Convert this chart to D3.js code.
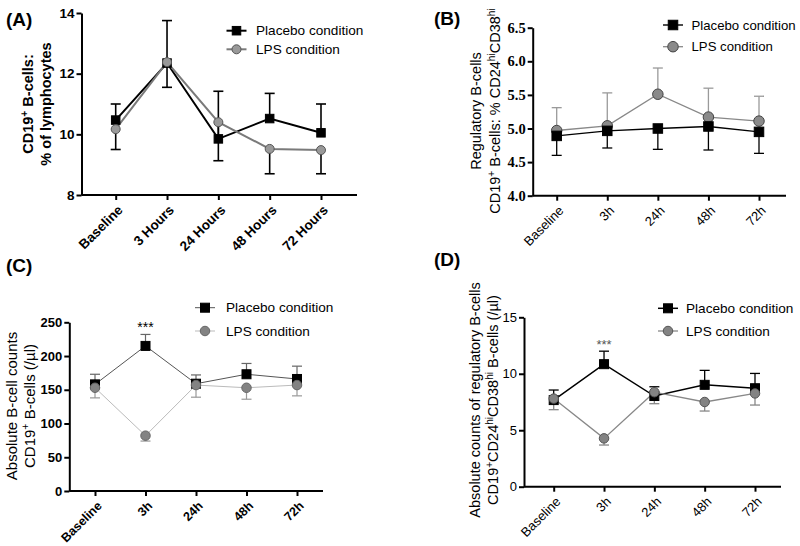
<!DOCTYPE html>
<html><head><meta charset="utf-8">
<script src="https://cdn.jsdelivr.net/npm/d3@7"></script>
<style>body{margin:0;background:#fff}svg{display:block}</style>
</head><body><svg id="c" width="800" height="546"></svg>
<script>
// ---------- data ----------
const categoriesA = ["Baseline","3 Hours","24 Hours","48 Hours","72 Hours"];
const categoriesB = ["Baseline","3h","24h","48h","72h"];
const seriesNames = ["Placebo condition","LPS condition"];

const placeboA = [10.47, 12.35, 9.85, 10.52, 10.05];
const placeboAErr = [0.53, 1.40, 1.57, 0.83, 0.95];
const lpsA = [10.17, 12.38, 10.40, 9.52, 9.48];
const lpsAErr = [0.67, 0.83, 1.27, 0.82, 0.78];
const ticksA = [8, 10, 12, 14];

const placeboB = [4.89, 4.965, 5.00, 5.03, 4.95];
const placeboBErr = [0.29, 0.255, 0.31, 0.35, 0.32];
const lpsB = [4.97, 5.04, 5.51, 5.17, 5.11];
const lpsBErr = [0.34, 0.49, 0.39, 0.43, 0.37];
const ticksB = [4.0, 4.5, 5.0, 5.5, 6.0, 6.5];

const placeboC = [158, 215, 159, 173, 166];
const placeboCErr = [15, 17, 13, 16, 19];
const lpsC = [153, 82, 157, 153, 157];
const lpsCErr = [15, 8, 18, 17, 16];
const ticksC = [0, 50, 100, 150, 200, 250];

const placeboD = [7.67, 10.85, 8.03, 9.02, 8.72];
const placeboDErr = [0.89, 1.15, 0.82, 1.28, 1.31];
const lpsD = [7.80, 4.28, 8.37, 7.50, 8.26];
const lpsDErr = [0.98, 0.59, 1.02, 0.80, 1.03];
const ticksD = [0, 5, 10, 15];

const sigLabel = "***";
const sigIndex = 1;

// ---------- drawing ----------
const svg = d3.select("#c");
const SANS = "'Liberation Sans', Arial, sans-serif";
const SERIF = "'Liberation Serif', 'Times New Roman', serif";

function addRich(textSel, parts){
  parts.forEach(p=>{
    const t = textSel.append("tspan").text(p.t);
    if(p.sup){ t.attr("baseline-shift","super").attr("font-size","70%"); }
  });
}

function panel(cfg){
  const g = svg.append("g");
  const x = d3.scalePoint().domain(cfg.cats).range([cfg.x0, cfg.x1]);
  const y = d3.scaleLinear().domain(cfg.ydom).range([cfg.yb, cfg.yt]);

  const ya = g.append("g").attr("transform",`translate(${cfg.axX},0)`)
    .call(d3.axisLeft(y).tickValues(cfg.ticks).tickSize(5).tickFormat(cfg.fmt).tickSizeOuter(0));
  ya.select(".domain").attr("stroke","#000").attr("stroke-width",2);
  ya.selectAll(".tick line").attr("stroke","#000").attr("stroke-width",2);
  ya.selectAll(".tick text").attr("font-family",cfg.yFont).attr("font-weight",cfg.yWeight)
    .attr("font-size",cfg.yFs).attr("fill","#000").attr("x",-7);

  const xa = g.append("g").attr("transform",`translate(0,${cfg.yb})`)
    .call(d3.axisBottom(x).tickSize(5).tickSizeOuter(0));
  xa.select(".domain").attr("d",`M${cfg.axX},0H${cfg.axEnd}`).attr("stroke","#000").attr("stroke-width",2);
  xa.selectAll(".tick line").attr("stroke","#000").attr("stroke-width",2);
  xa.selectAll(".tick text").attr("font-family",SANS).attr("font-weight",cfg.xWeight)
    .attr("font-size",cfg.xFs).attr("fill","#000")
    .attr("text-anchor","end").attr("y",0).attr("dy","0.35em")
    .attr("transform","translate(4,12.5) rotate(-45)");

  const ser = [
    {v:cfg.p, e:cfg.pe, dir:cfg.pDir, st:cfg.pStyle, shape:"square"},
    {v:cfg.l, e:cfg.le, dir:-cfg.pDir, st:cfg.lStyle, shape:"circle"}
  ];
  const order = cfg.lpsOnTop ? [0,1] : [1,0];
  ser.forEach(s=>{
    const eg = g.append("g").attr("stroke",s.st.err).attr("stroke-width",s.st.errW).attr("fill","none");
    s.v.forEach((v,i)=>{
      const cx = x(cfg.cats[i]), y0 = y(v), y1 = y(v + s.dir*s.e[i]);
      eg.append("line").attr("x1",cx).attr("x2",cx).attr("y1",y0).attr("y2",y1);
      eg.append("line").attr("x1",cx-cfg.cap).attr("x2",cx+cfg.cap).attr("y1",y1).attr("y2",y1);
    });
  });
  order.forEach(k=>{
    const s = ser[k];
    const line = d3.line().x((d,i)=>x(cfg.cats[i])).y(d=>y(d));
    g.append("path").attr("d",line(s.v)).attr("fill","none").attr("stroke",s.st.line).attr("stroke-width",s.st.lineW);
  });
  order.forEach(k=>{
    const s = ser[k];
    s.v.forEach((v,i)=>{ drawMarker(g, s.shape, x(cfg.cats[i]), y(v), s.st); });
  });

  if(cfg.sig){
    g.append("text").attr("x",x(cfg.cats[sigIndex])).attr("y",cfg.sigY)
      .attr("text-anchor","middle").attr("font-family",SANS).attr("font-size",cfg.sigFs)
      .attr("font-weight",cfg.sigWeight).attr("fill",cfg.sigColor).text(sigLabel);
  }

  ser.forEach((s,k)=>{
    const ly = cfg.legY[k];
    g.append("line").attr("x1",cfg.legX-10).attr("x2",cfg.legX+10).attr("y1",ly).attr("y2",ly)
      .attr("stroke",s.st.line).attr("stroke-width",s.st.lineW);
    drawMarker(g, s.shape, cfg.legX, ly, s.st);
    g.append("text").attr("x",cfg.legTx).attr("y",ly).attr("dy","0.35em")
      .attr("font-family",SANS).attr("font-size",cfg.legFs).attr("fill","#000").text(seriesNames[k]);
  });

  cfg.title.forEach((parts,k)=>{
    const t = g.append("text").attr("transform",`translate(${cfg.titleX[k]},${cfg.titleY}) rotate(-90)`)
      .attr("text-anchor","middle").attr("font-family",SANS).attr("font-size",cfg.titleFs)
      .attr("font-weight",cfg.titleWeight).attr("fill","#000");
    addRich(t, parts);
  });

  g.append("text").attr("x",cfg.lab[0]).attr("y",cfg.lab[1]).attr("font-family",SANS)
    .attr("font-weight","bold").attr("font-size",19).attr("fill","#000").text(cfg.label);
}

function drawMarker(g, shape, cx, cy, st){
  if(shape==="square"){
    g.append("rect").attr("x",cx-st.sz/2).attr("y",cy-st.sz/2).attr("width",st.sz).attr("height",st.sz)
      .attr("fill",st.fill).attr("stroke",st.stroke).attr("stroke-width",1);
  } else {
    g.append("circle").attr("cx",cx).attr("cy",cy).attr("r",st.sz/2)
      .attr("fill",st.fill).attr("stroke",st.stroke).attr("stroke-width",1);
  }
}

// Panel A
panel({
  label:"(A)", lab:[6,26], cats:categoriesA, ydom:[8,14], ticks:ticksA, fmt:d3.format("d"),
  x0:115.7, x1:321, axX:81.5, axEnd:357, yb:195, yt:13,
  yFont:SANS, yWeight:"bold", yFs:13.5, xWeight:"bold", xFs:13.5,
  p:placeboA, pe:placeboAErr, l:lpsA, le:lpsAErr, pDir:1, cap:5, lpsOnTop:true,
  pStyle:{line:"#000", lineW:2, err:"#000", errW:1.6, fill:"#000", stroke:"#000", sz:8.5},
  lStyle:{line:"#7a7a7a", lineW:2, err:"#000", errW:1.6, fill:"#999", stroke:"#555", sz:9},
  legX:236.5, legTx:256, legY:[30.7,49.3], legFs:13.6,
  title:[[{t:"CD19"},{t:"+",sup:true},{t:" B-cells:"}],[{t:"% of lymphocytes"}]],
  titleX:[33,51], titleY:104, titleFs:14.5, titleWeight:"bold"
});

// Panel B
panel({
  label:"(B)", lab:[434,25], cats:categoriesB, ydom:[4,6.5], ticks:ticksB, fmt:d3.format(".1f"),
  x0:556.7, x1:759, axX:532.7, axEnd:786, yb:195.7, yt:27.7,
  yFont:SERIF, yWeight:"bold", yFs:14.5, xWeight:"normal", xFs:13,
  p:placeboB, pe:placeboBErr, l:lpsB, le:lpsBErr, pDir:-1, cap:5, lpsOnTop:false,
  pStyle:{line:"#000", lineW:1.4, err:"#000", errW:1.3, fill:"#000", stroke:"#000", sz:9.5},
  lStyle:{line:"#888", lineW:1.3, err:"#9a9a9a", errW:1.3, fill:"#8a8a8a", stroke:"#444", sz:10.5},
  legX:673, legTx:691.5, legY:[25,46.7], legFs:13.2,
  title:[[{t:"Regulatory B-cells"}],[{t:"CD19"},{t:"+",sup:true},{t:" B-cells: % CD24"},{t:"hi",sup:true},{t:"CD38"},{t:"hi",sup:true}]],
  titleX:[481,500], titleY:111, titleFs:14.5, titleWeight:"normal"
});

// Panel C
panel({
  label:"(C)", lab:[6,272], cats:categoriesB, ydom:[0,250], ticks:ticksC, fmt:d3.format("d"),
  x0:95, x1:297, axX:69.3, axEnd:323, yb:491, yt:322.3,
  yFont:SANS, yWeight:"bold", yFs:13, xWeight:"bold", xFs:12.5,
  p:placeboC, pe:placeboCErr, l:lpsC, le:lpsCErr, pDir:1, cap:5, lpsOnTop:true,
  pStyle:{line:"#555", lineW:1, err:"#666", errW:1.2, fill:"#000", stroke:"#000", sz:9},
  lStyle:{line:"#bbb", lineW:1, err:"#999", errW:1.2, fill:"#838383", stroke:"#666", sz:9.5},
  legX:205, legTx:226, legY:[307.7,331], legFs:13.6,
  sig:true, sigY:332, sigFs:14, sigWeight:"normal", sigColor:"#000",
  title:[[{t:"Absolute B-cell counts"}],[{t:"CD19"},{t:"+",sup:true},{t:" B-cells (/µl)"}]],
  titleX:[17,35], titleY:406, titleFs:15, titleWeight:"normal"
});

// Panel D
panel({
  label:"(D)", lab:[434,266], cats:categoriesB, ydom:[0,15], ticks:ticksD, fmt:d3.format("d"),
  x0:553.7, x1:755, axX:524, axEnd:781, yb:486.7, yt:317.3,
  yFont:SANS, yWeight:"normal", yFs:13, xWeight:"normal", xFs:13,
  p:placeboD, pe:placeboDErr, l:lpsD, le:lpsDErr, pDir:1, cap:5, lpsOnTop:true,
  pStyle:{line:"#000", lineW:1.5, err:"#000", errW:1.3, fill:"#000", stroke:"#000", sz:9},
  lStyle:{line:"#888", lineW:1.3, err:"#888", errW:1.3, fill:"#838383", stroke:"#555", sz:9.5},
  legX:668, legTx:686, legY:[308.3,331], legFs:13.6,
  sig:true, sigY:349, sigFs:13, sigWeight:"normal", sigColor:"#555",
  title:[[{t:"Absolute counts of regulatory B-cells"}],[{t:"CD19"},{t:"+",sup:true},{t:"CD24"},{t:"hi",sup:true},{t:"CD38"},{t:"hi",sup:true},{t:" B-cells (/µl)"}]],
  titleX:[480,498], titleY:400, titleFs:14.5, titleWeight:"normal"
});
</script></body></html>
